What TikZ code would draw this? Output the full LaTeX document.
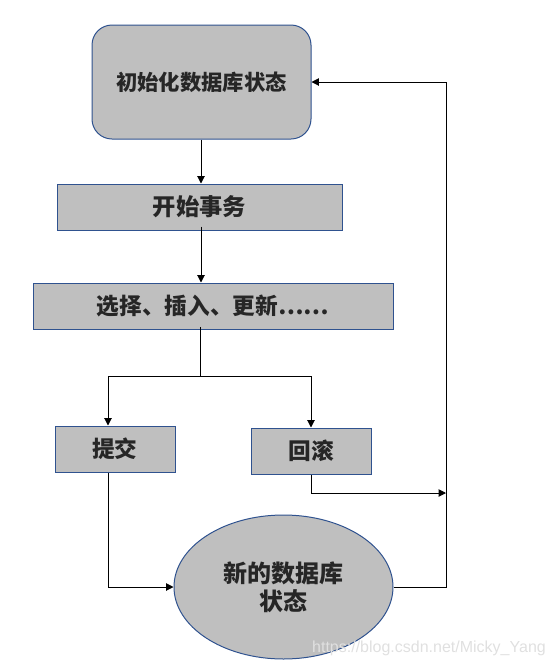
\documentclass[tikz,border=0pt]{standalone}
\usepackage{fontspec}
\setmainfont{Liberation Sans}
\newfontfamily\cjk{Noto Sans CJK SC}
\usetikzlibrary{arrows.meta,shapes.geometric}

\definecolor{boxfill}{HTML}{BFBFBF}
\definecolor{boxline}{HTML}{2F528F}
\definecolor{boxtext}{HTML}{262626}

\tikzset{every picture/.style={line width=0.75pt}}
\tikzset{
  stepbox/.style={draw=boxline, fill=boxfill, text=boxtext, font=\cjk\bfseries\fontsize{17}{20}\selectfont, inner sep=0pt},
  flow/.style={-{Triangle[length=5.5pt,width=5.5pt]}, line width=0.75pt},
}

\begin{document}
\begin{tikzpicture}[x=0.75pt,y=0.75pt,yscale=-1,xscale=1]

\useasboundingbox (0,0) rectangle (555,669);

% boxes
\node (init) [stepbox, rounded corners=15pt, minimum width=164.25pt, minimum height=85.5pt,
  font=\cjk\bfseries\fontsize{16}{19}\selectfont] at (201.5,82) {初始化数据库状态};
\node (begin) [stepbox, minimum width=213.75pt, minimum height=34.5pt,
  font=\cjk\bfseries\fontsize{17.5}{20}\selectfont] at (199.5,207) {开始事务};
\node (ops) [stepbox, minimum width=270pt, minimum height=34.5pt] at (213,306) {选择、插入、更新……};
\node (commit) [stepbox, minimum width=90pt, minimum height=34.5pt] at (115,449) {提交};
\node (rollback) [stepbox, minimum width=90pt, minimum height=34.5pt] at (311,451) {回滚};
\node (newstate) [stepbox, ellipse, minimum width=164.25pt, minimum height=108pt, align=center,
  font=\cjk\bfseries\fontsize{18}{21}\selectfont] at (283.5,587) {新的数据库\\状态};

% helper points
\coordinate (fork) at (200,376);
\coordinate (merge) at (446,493);
\coordinate (loop) at (446,82);

% connectors
\draw [flow] (init.south -| 201,0) -- (begin.north -| 201,0);
\draw [flow] ([yshift=-3pt]begin.south -| 201,0) -- (ops.north -| 201,0);
\draw ([yshift=-2pt]ops.south -| fork) -- (fork);
\draw [flow] (fork) -| ([xshift=-5.25pt]commit.north);
\draw [flow] (fork) -| (rollback.north);
\draw [flow] (rollback.south) |- (merge);
\draw [flow] ([xshift=-5.25pt]commit.south) |- (newstate.west);
\draw [flow] (newstate.east) -| (loop) -- (init.east);

% watermark
\node (mark) [text=black!12, font=\fontsize{12}{14}\selectfont] at (429,648) {https://blog.csdn.net/Micky\_Yang};

\end{tikzpicture}
\end{document}
